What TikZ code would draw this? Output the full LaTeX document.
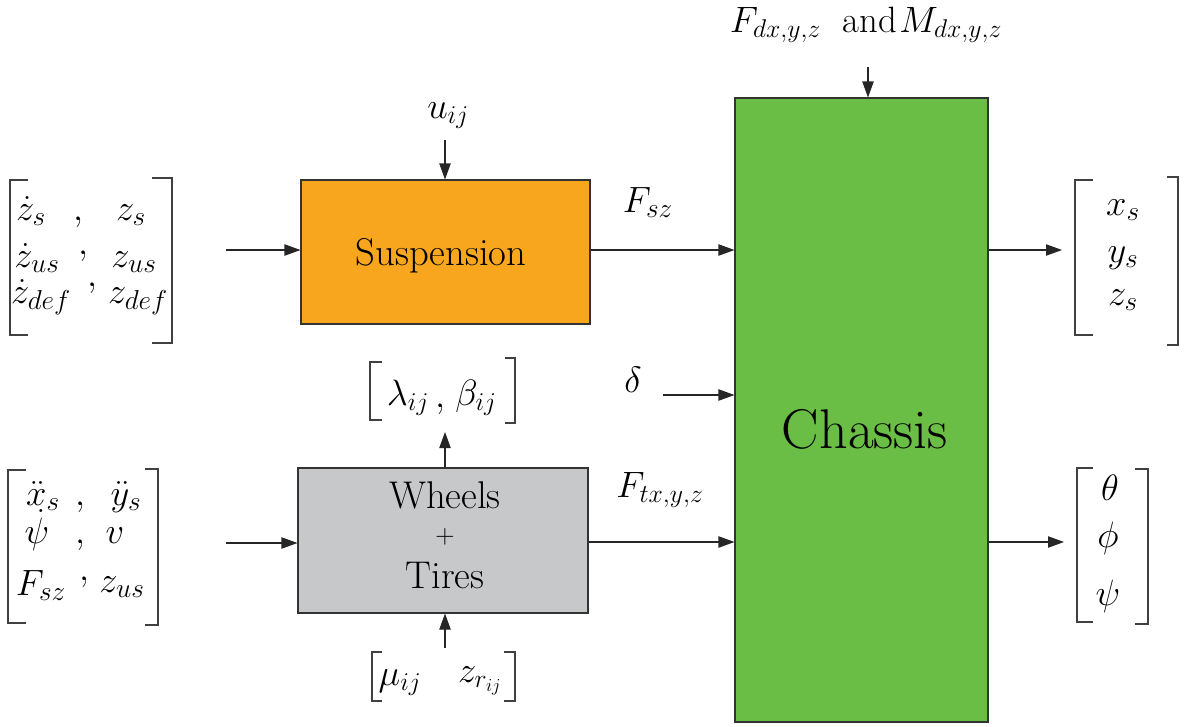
\RequirePackage{fix-cm}
\documentclass[tikz,border=0pt]{standalone}
\usepackage{amsmath}
\usetikzlibrary{arrows.meta}
\DeclareMathSizes{27.4}{27.4}{20.5}{15}
\definecolor{suspc}{RGB}{247,166,29}
\definecolor{wheelc}{RGB}{199,200,202}
\definecolor{chasc}{RGB}{106,189,69}
\tikzset{
  lbl/.style={inner sep=0pt, anchor=base, font=\fontsize{27.5}{32}\selectfont},
  mlbl/.style={inner sep=0pt, anchor=base, font=\fontsize{27.4}{32}\selectfont},
  txt/.style={inner sep=0pt, anchor=base, font=\fontsize{29}{34}\selectfont},
  blk/.style={draw=black!80, line width=0.8pt, inner sep=0pt},
  arr/.style={-{Triangle[length=12pt,width=8.5pt]}, line width=0.8pt, draw=black!85},
  brk/.style={line width=0.8pt, draw=black!75}
}
\begin{document}
\begin{tikzpicture}[x=0.75pt,y=-0.75pt]
\useasboundingbox (0,0) rectangle (1187,726);
% boxes
\node[blk, fill=suspc, minimum width=216.75pt, minimum height=108pt] (susp) at (445.5,252) {};
\node[blk, fill=wheelc, minimum width=217.5pt, minimum height=108.75pt] (wheel) at (443,540.5) {};
\node[blk, fill=chasc, minimum width=189.75pt, minimum height=468pt] (chassis) at (861.5,410) {};
% box texts
\node[txt] (susptxt) at (441,265) {Suspension};
\node[txt] (wtxt) at (445,508) {Wheels};
\node[txt, font=\fontsize{20}{24}\selectfont] (wplus) at (445,543) {+};
\node[txt] (ttxt) at (445,588) {Tires};
\node[txt, font=\fontsize{42}{48}\selectfont] (chtxt) at (865,448) {Chassis};
% labels
\node[lbl] (uij) at (448,118) {$u_{ij}$};
\node[mlbl] (fsz) at (648,212) {$F_{sz}$};
\node[lbl] (delta) at (633,392) {$\delta$};
\node[lbl] (ftxyz) at (660,497) {$F_{tx,y,z}$};
\node[lbl] (fdm) at (866,32) {$F_{dx,y,z}$\hspace{16pt}and\hspace{2pt}$M_{dx,y,z}$};
% left matrix 1
\node[mlbl] (m1a) at (31,220) {$\dot z_s$};
\node[mlbl] (m1c1) at (78,220) {$,$};
\node[mlbl] (m1b) at (131,220) {$z_s$};
\node[mlbl] (m1d) at (37,267) {$\dot z_{us}$};
\node[mlbl] (m1c2) at (83,254) {$,$};
\node[mlbl] (m1e) at (134,267) {$z_{us}$};
\node[mlbl] (m1f) at (41,303) {$\dot z_{def}$};
\node[mlbl] (m1c3) at (92,286) {$,$};
\node[mlbl] (m1g) at (138,303) {$z_{def}$};
\draw[brk] (28,180) -- (10,180) -- (10,335) -- (28,335);
\draw[brk] (152,178) -- (172,178) -- (172,343) -- (152,343);
% left matrix 2
\node[mlbl] (m2a) at (43,505) {$\ddot x_s$};
\node[mlbl] (m2c1) at (80,505) {$,$};
\node[mlbl] (m2b) at (126,505) {$\ddot y_s$};
\node[mlbl] (m2d) at (37,543) {$\dot\psi$};
\node[mlbl] (m2c2) at (80,543) {$,$};
\node[mlbl] (m2e) at (115,543) {$v$};
\node[mlbl] (m2f) at (41,595) {$F_{sz}$};
\node[mlbl] (m2c3) at (84,580) {$,$};
\node[mlbl] (m2g) at (122,592) {$z_{us}$};
\draw[brk] (26,470) -- (8,470) -- (8,623) -- (26,623);
\draw[brk] (145,469) -- (158,469) -- (158,625) -- (145,625);
% lambda beta
\node[lbl] (lam) at (408,405) {$\lambda_{ij}$};
\node[lbl] (lbc) at (440,407) {$,$};
\node[lbl] (bet) at (476,405) {$\beta_{ij}$};
\draw[brk] (382,362) -- (370,362) -- (370,420) -- (382,420);
\draw[brk] (505,358) -- (515,358) -- (515,423) -- (505,423);
% mu z_r
\node[lbl] (mu) at (400,685) {$\mu_{ij}$};
\node[lbl] (zr) at (480,682) {$z_{r_{ij}}$};
\draw[brk] (382,652) -- (372,652) -- (372,701) -- (382,701);
\draw[brk] (504,652) -- (515,652) -- (515,701) -- (504,701);
% right matrix 1
\node[mlbl] (xs) at (1123,215) {$x_s$};
\node[mlbl] (ys) at (1123,262) {$y_s$};
\node[mlbl] (zs) at (1123,305) {$z_s$};
\draw[brk] (1093,180) -- (1075,180) -- (1075,335) -- (1093,335);
\draw[brk] (1167,177) -- (1178,177) -- (1178,345) -- (1167,345);
% right matrix 2
\node[lbl] (th) at (1110,500) {$\theta$};
\node[lbl] (ph) at (1108,547) {$\phi$};
\node[lbl] (ps) at (1108,605) {$\psi$};
\draw[brk] (1093,468) -- (1077,468) -- (1077,622) -- (1093,622);
\draw[brk] (1135,469) -- (1148,469) -- (1148,624) -- (1135,624);
% connectors
\coordinate (yA) at (0,250);
\coordinate (yB) at (0,542);
\coordinate (inA) at (226,250);
\coordinate (inB) at (226,543);
\coordinate (uA) at (445,140);
\coordinate (fA) at (868,67);
\coordinate (dA) at (663,395);
\coordinate (outA) at (1062,250);
\coordinate (outB) at (1064,542);
\coordinate (lbA) at (445,432);
\coordinate (muA) at (445,648);
\draw[arr] (inA) -- (susp.west |- inA);
\draw[arr] (inB) -- (wheel.west |- inB);
\draw[arr] (uA) -- (susp.north -| uA);
\draw[arr] (fA) -- (chassis.north -| fA);
\draw[arr] (susp.east |- yA) -- (chassis.west |- yA);
\draw[arr] (wheel.east |- yB) -- (chassis.west |- yB);
\draw[arr] (dA) -- (chassis.west |- dA);
\draw[arr] (chassis.east |- yA) -- (outA);
\draw[arr] (chassis.east |- yB) -- (outB);
\draw[arr] (wheel.north -| lbA) -- (lbA);
\draw[arr] (muA) -- (wheel.south -| muA);
\end{tikzpicture}
\end{document}
